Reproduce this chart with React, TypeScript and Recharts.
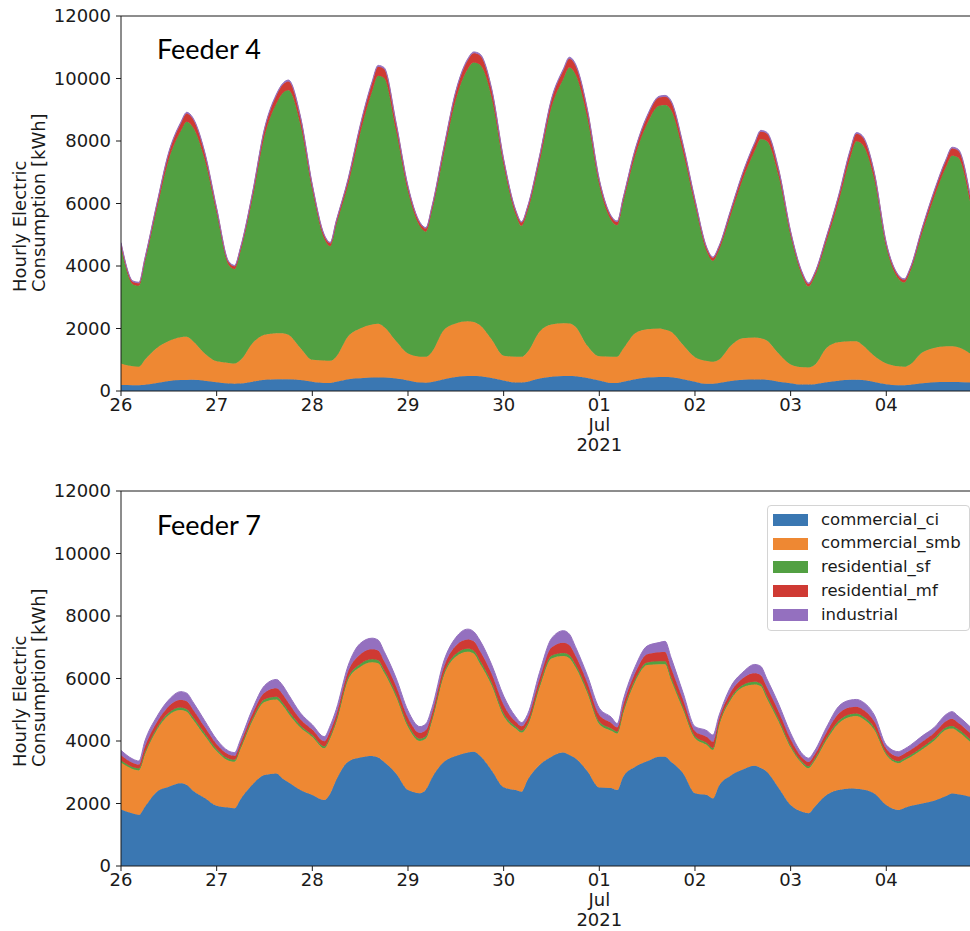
import { AreaChart, Area, XAxis, YAxis, ReferenceLine, Legend } from "recharts";

// hours since 26 Jun 2021 00:00 (3-hourly, plus the daily trough and peak)
const hours = [
  0, 3, 4.5, 6, 9, 12, 15, 16.5, 18, 21,
  24, 27, 28.5, 30, 33, 36, 39, 40.5, 42, 45,
  48, 51, 52.5, 54, 57, 60, 63, 64.5, 66, 69,
  72, 75, 76.5, 78, 81, 84, 87, 88.5, 90, 93,
  96, 99, 100.5, 102, 105, 108, 111, 112.5, 114, 117,
  120, 123, 124.5, 126, 129, 132, 135, 136.5, 138, 141,
  144, 147, 148.5, 150, 153, 156, 159, 160.5, 162, 165,
  168, 171, 172.5, 174, 177, 180, 183, 184.5, 186, 189,
  192, 195, 196.5, 198, 201, 204, 207, 208.5, 210, 213,
];
const dayTicks = [0, 24, 48, 72, 96, 120, 144, 168, 192];
const dayLabels = ["26", "27", "28", "29", "30", "01", "02", "03", "04"];
const monthLabel = ["Jul", "2021"];
const yTicks = [0, 2000, 4000, 6000, 8000, 10000, 12000];

const seriesNames = ["commercial_ci", "commercial_smb", "residential_sf", "residential_mf", "industrial"];
const COLORS = ["#3a77b2", "#ee8833", "#52a042", "#cf3a33", "#9470bf"];

// Feeder 4 (kWh)
const f4Ci = [
  190, 185, 185, 200, 260, 320, 350, 355, 360, 330,
  280, 240, 235, 240, 300, 360, 380, 380, 380, 350,
  300, 260, 260, 300, 380, 410, 430, 430, 430, 400,
  340, 270, 265, 290, 380, 450, 480, 480, 470, 420,
  340, 270, 270, 300, 400, 460, 480, 480, 470, 420,
  340, 260, 260, 300, 380, 430, 450, 450, 440, 380,
  300, 230, 230, 260, 320, 360, 370, 370, 360, 300,
  250, 205, 205, 220, 280, 330, 360, 360, 350, 290,
  220, 185, 185, 200, 250, 280, 290, 290, 290, 270,
];
const f4Smb = [
  690, 605, 595, 800, 1120, 1280, 1370, 1380, 1240, 870,
  670, 660, 645, 750, 1230, 1440, 1470, 1470, 1420, 1030,
  700, 715, 705, 800, 1370, 1590, 1700, 1720, 1620, 1200,
  860, 830, 830, 960, 1570, 1710, 1750, 1730, 1640, 1230,
  790, 825, 825, 950, 1500, 1670, 1690, 1680, 1590, 1030,
  770, 835, 840, 1050, 1470, 1550, 1550, 1510, 1460, 1100,
  780, 730, 710, 740, 1130, 1330, 1340, 1320, 1260, 900,
  600, 555, 550, 610, 1100, 1230, 1230, 1230, 1120, 830,
  660, 605, 590, 650, 980, 1100, 1140, 1145, 1110, 930,
];
const f4Sf = [
  3725, 2620, 2590, 3130, 4435, 5810, 6600, 6885, 6850, 6210,
  4735, 3130, 3020, 3480, 4635, 6350, 7350, 7670, 7825, 7160,
  5425, 3895, 3670, 4210, 4855, 6240, 7455, 7940, 7965, 6740,
  5185, 4170, 4005, 4500, 5635, 7160, 8075, 8300, 8335, 7730,
  6095, 4565, 4190, 4500, 5415, 6950, 7825, 8190, 8075, 7290,
  5475, 4365, 4205, 4680, 5675, 6570, 7130, 7195, 7090, 6170,
  4875, 3490, 3225, 3500, 4185, 5085, 5980, 6370, 6380, 5675,
  4110, 2890, 2590, 2820, 3410, 4475, 5890, 6400, 6420, 5645,
  3720, 2810, 2700, 2970, 3830, 4815, 5745, 6095, 6070, 4875,
];
const f4Mf = [
  110, 80, 80, 90, 150, 200, 240, 260, 260, 200,
  130, 90, 90, 100, 150, 210, 260, 270, 280, 220,
  140, 100, 95, 110, 160, 220, 270, 285, 290, 220,
  140, 100, 100, 120, 180, 240, 280, 295, 300, 250,
  160, 110, 105, 120, 170, 230, 270, 285, 290, 240,
  150, 110, 105, 130, 180, 220, 260, 265, 260, 210,
  140, 100, 95, 100, 140, 180, 220, 240, 240, 190,
  120, 90, 85, 90, 130, 170, 220, 240, 240, 190,
  110, 90, 85, 90, 130, 170, 210, 230, 230, 180,
];
const f4Ind = [
  35, 30, 30, 30, 35, 40, 40, 40, 40, 40,
  35, 30, 30, 30, 35, 40, 40, 40, 45, 40,
  35, 30, 30, 30, 35, 40, 45, 45, 45, 40,
  35, 30, 30, 30, 35, 40, 45, 45, 45, 40,
  35, 30, 30, 30, 35, 40, 45, 45, 45, 40,
  35, 30, 30, 30, 35, 40, 40, 40, 40, 40,
  35, 30, 30, 30, 35, 35, 40, 40, 40, 35,
  30, 30, 30, 30, 30, 35, 40, 40, 40, 35,
  30, 30, 30, 30, 30, 35, 35, 40, 40, 35,
];

// Feeder 7 (kWh)
const f7Ci = [
  1810, 1680, 1640, 1900, 2380, 2540, 2650, 2590, 2420, 2180,
  1930, 1870, 1850, 2140, 2610, 2910, 2960, 2800, 2680, 2430,
  2270, 2110, 2320, 2750, 3340, 3470, 3520, 3470, 3330, 2960,
  2430, 2330, 2450, 2820, 3330, 3520, 3630, 3660, 3540, 3060,
  2520, 2430, 2380, 2750, 3230, 3500, 3630, 3550, 3450, 3030,
  2510, 2500, 2430, 2860, 3180, 3350, 3500, 3500, 3340, 2970,
  2330, 2270, 2160, 2560, 2900, 3090, 3210, 3140, 3020, 2500,
  1950, 1730, 1690, 1890, 2270, 2430, 2480, 2470, 2450, 2320,
  1950, 1790, 1860, 1920, 2000, 2090, 2240, 2320, 2300, 2220,
];
const f7Smb = [
  1500, 1420, 1420, 1670, 1970, 2290, 2340, 2350, 2280, 1990,
  1740, 1500, 1490, 1610, 2040, 2340, 2370, 2350, 2200, 2000,
  1860, 1660, 1770, 1850, 2630, 2900, 3000, 3020, 2860, 2460,
  2020, 1670, 1630, 1820, 2770, 3180, 3230, 3140, 2950, 2720,
  2280, 1970, 1890, 1740, 2480, 3140, 3090, 3100, 2920, 2510,
  2030, 1830, 1810, 2040, 2720, 3080, 2960, 2960, 2610, 2040,
  1760, 1600, 1550, 1920, 2420, 2630, 2600, 2610, 2350, 2120,
  1840, 1530, 1440, 1470, 1760, 2130, 2300, 2330, 2270, 2030,
  1600, 1500, 1520, 1560, 1730, 1920, 2120, 2080, 2000, 1760,
];
const f7Sf = [
  65, 60, 60, 65, 70, 75, 80, 80, 80, 75,
  65, 60, 60, 60, 65, 75, 85, 85, 85, 70,
  65, 60, 65, 65, 70, 90, 95, 95, 90, 85,
  75, 70, 70, 65, 70, 85, 90, 90, 95, 85,
  85, 65, 60, 60, 75, 85, 95, 95, 85, 80,
  75, 70, 60, 65, 75, 85, 90, 90, 90, 80,
  65, 70, 70, 60, 65, 75, 85, 85, 85, 80,
  70, 60, 60, 60, 65, 80, 80, 80, 80, 75,
  60, 60, 60, 65, 70, 70, 75, 80, 75, 75,
];
const f7Mf = [
  170, 140, 130, 180, 180, 210, 250, 250, 240, 200,
  160, 140, 130, 130, 160, 220, 270, 270, 260, 200,
  170, 160, 170, 170, 190, 310, 320, 310, 280, 250,
  220, 190, 200, 170, 190, 260, 300, 300, 310, 280,
  270, 160, 140, 160, 200, 270, 330, 320, 280, 240,
  220, 180, 140, 180, 200, 260, 290, 300, 300, 230,
  160, 190, 200, 140, 180, 210, 270, 270, 270, 240,
  200, 140, 140, 140, 180, 230, 220, 220, 220, 200,
  140, 150, 150, 160, 180, 180, 200, 230, 210, 200,
];
const f7Ind = [
  155, 120, 110, 185, 180, 205, 260, 260, 240, 205,
  155, 110, 100, 110, 155, 225, 285, 285, 265, 200,
  155, 150, 165, 175, 190, 350, 355, 335, 310, 265,
  225, 200, 200, 175, 200, 265, 330, 310, 335, 295,
  285, 155, 120, 140, 205, 285, 385, 355, 285, 240,
  215, 180, 120, 165, 205, 265, 310, 340, 330, 230,
  145, 200, 210, 120, 175, 195, 285, 285, 275, 240,
  190, 120, 120, 120, 165, 230, 230, 230, 240, 205,
  120, 160, 150, 155, 180, 170, 215, 230, 215, 205,
];

const toRows = (cols: number[][]) =>
  hours.map((h, i) => {
    const row: Record<string, number> = { h };
    seriesNames.forEach((name, k) => (row[name] = cols[k][i]));
    return row;
  });

const feeder4 = toRows([f4Ci, f4Smb, f4Sf, f4Mf, f4Ind]);
const feeder7 = toRows([f7Ci, f7Smb, f7Sf, f7Mf, f7Ind]);

const FONT = "'DejaVu Sans', sans-serif";
const INK = "#1a1a1a";

function DayTick({ x, y, payload }: any) {
  const i = dayTicks.indexOf(payload.value);
  return (
    <text x={x} y={y} textAnchor="middle" fontFamily={FONT} fontSize={18} fill={INK}>
      <tspan x={x} dy="0.75em">{dayLabels[i]}</tspan>
      {i === 5 &&
        monthLabel.map((t) => (
          <tspan key={t} x={x} dy="1.12em">
            {t}
          </tspan>
        ))}
    </text>
  );
}

const yLabel = () => (
  <text transform="rotate(-90)" fontFamily={FONT} fontSize={18} fill={INK}>
    <tspan x={-292} y={26}>Hourly Electric</tspan>
    <tspan x={-292} y={45}>Consumption [kWh]</tspan>
  </text>
);

function LegendBox() {
  return (
    <div
      style={{
        width: 201,
        height: 122,
        border: "1px solid #d4d4d4",
        borderRadius: 4,
        background: "rgba(255,255,255,0.85)",
        paddingTop: 2,
        boxSizing: "content-box",
      }}
    >
      {seriesNames.map((name, i) => (
        <div key={name} style={{ display: "flex", alignItems: "center", height: 23.75 }}>
          <div style={{ marginLeft: 5, width: 35, height: 12, background: COLORS[i] }} />
          <span style={{ marginLeft: 13, fontFamily: FONT, fontSize: 16.5, color: INK, lineHeight: 1 }}>{name}</span>
        </div>
      ))}
    </div>
  );
}

function FeederChart({ data, legend }: { data: Record<string, number>[]; legend?: boolean }) {
  return (
    <AreaChart width={970} height={471} data={data} margin={{ top: 16, right: 0, bottom: 0, left: 0 }}>
      <XAxis
        dataKey="h"
        type="number"
        domain={[0, 213]}
        allowDataOverflow
        ticks={dayTicks}
        tick={<DayTick />}
        tickSize={5}
        tickMargin={1}
        height={80}
        stroke={INK}
        interval={0}
      />
      <YAxis
        type="number"
        domain={[0, 12000]}
        ticks={yTicks}
        width={121}
        tickSize={5}
        tickMargin={5}
        stroke={INK}
        tick={{ fontSize: 18, fill: INK, fontFamily: FONT }}
        label={yLabel}
        interval={0}
      />
      {seriesNames.map((name, i) => (
        <Area
          key={name}
          dataKey={name}
          stackId="load"
          type="monotone"
          fill={COLORS[i]}
          fillOpacity={1}
          stroke={COLORS[i]}
          strokeWidth={1}
          dot={false}
          activeDot={false}
          isAnimationActive={false}
        />
      ))}
      <ReferenceLine y={12000} stroke={INK} strokeWidth={1} />
      {legend && (
        <Legend
          layout="vertical"
          align="center"
          verticalAlign="middle"
          content={() => <LegendBox />}
          wrapperStyle={{ left: 767, top: 30, width: 203, height: 124 }}
        />
      )}
    </AreaChart>
  );
}

export default function App() {
  return (
    <div style={{ position: "absolute", left: 0, top: 0, width: 970, height: 931, background: "#fff", overflow: "hidden" }}>
      <div style={{ position: "absolute", left: 0, top: 0 }}>
        <FeederChart data={feeder4} />
      </div>
      <div style={{ position: "absolute", left: 0, top: 475 }}>
        <FeederChart data={feeder7} legend />
      </div>
      <svg width={970} height={931} style={{ position: "absolute", left: 0, top: 0, pointerEvents: "none" }}>
        <text x={157} y={59} fontFamily="Lato, 'Open Sans', sans-serif" fontSize={27} fill="#000">
          Feeder 4
        </text>
        <text x={157} y={535} fontFamily="Lato, 'Open Sans', sans-serif" fontSize={27} fill="#000">
          Feeder 7
        </text>
      </svg>
    </div>
  );
}
